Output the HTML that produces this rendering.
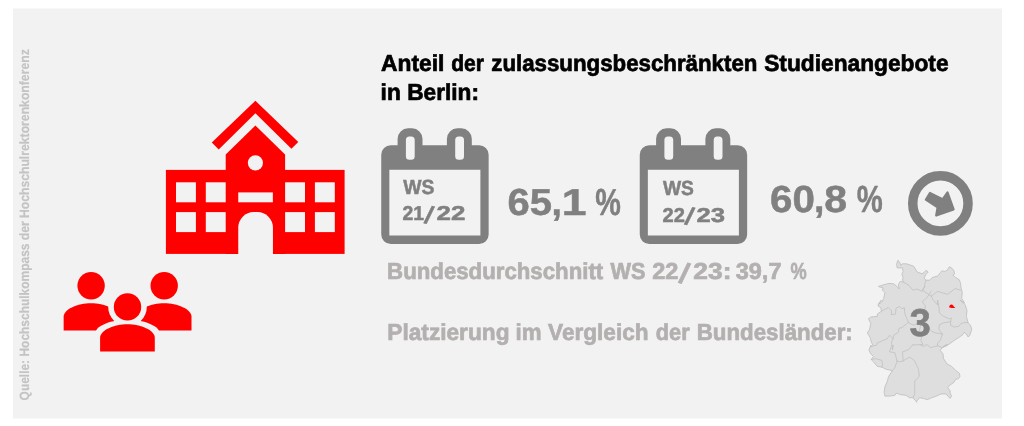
<!DOCTYPE html>
<html lang="de">
<head>
<meta charset="utf-8">
<title>Anteil der zulassungsbeschränkten Studienangebote in Berlin</title>
<style>
html,body{margin:0;padding:0;background:#fff;}
body{width:1024px;height:426px;overflow:hidden;position:relative;}
svg{position:absolute;left:0;top:0;display:block;}
text{font-family:"Liberation Sans",sans-serif;font-weight:bold;text-rendering:geometricPrecision;}
</style>
</head>
<body>
<svg width="1024" height="426" viewBox="0 0 1024 426">
  <defs>
    <filter id="soft" x="-5%" y="-5%" width="110%" height="110%"><feGaussianBlur stdDeviation="0.6"/></filter>
  </defs>
  <!-- panel -->
  <rect x="13" y="8.5" width="989" height="410" fill="#f2f2f2" filter="url(#soft)"/>

  <!-- source note -->
  <text id="src" transform="translate(29.4 400.2) rotate(-90)" font-size="13.4" fill="#c3c3c3" stroke="#c3c3c3" stroke-width="0.15"><tspan x="-0.21" textLength="40.49" lengthAdjust="spacingAndGlyphs">Quelle:</tspan> <tspan x="43.63" textLength="113.08" lengthAdjust="spacingAndGlyphs">Hochschulkompass</tspan> <tspan x="159.85" textLength="19.27" lengthAdjust="spacingAndGlyphs">der</tspan> <tspan x="182.08" textLength="168.87" lengthAdjust="spacingAndGlyphs">Hochschulrektorenkonferenz</tspan></text>

  <!-- university building -->
  <g id="building" fill="#ff0000">
    <polygon points="255.4,100.8 298.3,141.9 291.4,148.8 255.4,113.2 218.7,149.5 211.8,142.6"/>
    <polygon points="225.7,254 225.7,154.6 255.4,125.6 285.1,154.6 285.1,254"/>
    <rect x="165.9" y="169.9" width="178.7" height="84"/>
  </g>
  <g id="building-holes" fill="#f2f2f2">
    <circle cx="255.4" cy="162.8" r="7.6"/>
    <rect x="176" y="182.3" width="19.9" height="20"/>
    <rect x="205.8" y="182.3" width="19.9" height="20"/>
    <rect x="176" y="212.1" width="19.9" height="20"/>
    <rect x="205.8" y="212.1" width="19.9" height="20"/>
    <rect x="285.1" y="182.3" width="19.9" height="20"/>
    <rect x="314.9" y="182.3" width="19.9" height="20"/>
    <rect x="285.1" y="212.1" width="19.9" height="20"/>
    <rect x="314.9" y="212.1" width="19.9" height="20"/>
    <rect x="238.25" y="192.4" width="34.6" height="9.9"/>
    <path d="M238.25 255 V227.6 A15.5 15.5 0 0 1 253.75 212.1 H257.45 A15.5 15.5 0 0 1 272.95 227.6 V255 Z"/>
  </g>

  <!-- people -->
  <g id="people">
    <g fill="#ff0000">
      <circle cx="91.1" cy="285.8" r="13.7"/>
      <circle cx="164.2" cy="285.8" r="13.7"/>
      <path d="M63.65 330.5 V316.60 C63.65 309.10 77.90 303.2 91.0 303.2 C104.10 303.2 118.35 309.10 118.35 316.60 V330.5 Z"/>
      <path d="M136.80 330.5 V316.60 C136.80 309.10 151.05 303.2 164.15 303.2 C177.25 303.2 191.50 309.10 191.50 316.60 V330.5 Z"/>
    </g>
    <g fill="#f2f2f2">
      <circle cx="127.5" cy="306.9" r="19.3"/>
      <path d="M95.60 353 V332.50 C95.60 325.70 112.45 319.5 127.45 319.5 C142.45 319.5 159.30 325.70 159.30 332.50 V353 Z"/>
    </g>
    <g fill="#ff0000">
      <circle cx="127.5" cy="306.9" r="13.7"/>
      <path d="M100.10 351.6 V337.70 C100.10 330.20 114.35 324.3 127.45 324.3 C140.55 324.3 154.80 330.20 154.80 337.70 V351.6 Z"/>
    </g>
  </g>

  <!-- heading -->

  <!-- calendar 1 -->
  <g id="cal1" fill="#808080" fill-rule="evenodd">
    <path d="M390.75 145.2 H397.6 V138.8 A10.5 10.5 0 0 1 408.1 128.3 H412.0 A10.5 10.5 0 0 1 422.5 138.8 V145.2 H446.9 V138.8 A10.5 10.5 0 0 1 457.4 128.3 H461.3 A10.5 10.5 0 0 1 471.8 138.8 V145.2 H479.15 A9.5 9.5 0 0 1 488.65 154.7 V234.45 A9.5 9.5 0 0 1 479.15 243.95 H390.75 A9.5 9.5 0 0 1 381.25 234.45 V154.7 A9.5 9.5 0 0 1 390.75 145.2 Z M389.35 169.75 H480.4 V235.4 H389.35 Z M409.4 136.6 H411.2 A3.5 3.5 0 0 1 414.7 140.1 V156.3 A3.5 3.5 0 0 1 411.2 159.8 H409.4 A3.5 3.5 0 0 1 405.9 156.3 V140.1 A3.5 3.5 0 0 1 409.4 136.6 Z M458.7 136.6 H460.5 A3.5 3.5 0 0 1 464.0 140.1 V156.3 A3.5 3.5 0 0 1 460.5 159.8 H458.7 A3.5 3.5 0 0 1 455.2 156.3 V140.1 A3.5 3.5 0 0 1 458.7 136.6 Z"/>
  </g>

  <!-- calendar 2 -->
  <g id="cal2" fill="#808080" fill-rule="evenodd" transform="translate(258.5 0)">
    <path d="M390.75 145.2 H397.6 V138.8 A10.5 10.5 0 0 1 408.1 128.3 H412.0 A10.5 10.5 0 0 1 422.5 138.8 V145.2 H446.9 V138.8 A10.5 10.5 0 0 1 457.4 128.3 H461.3 A10.5 10.5 0 0 1 471.8 138.8 V145.2 H479.15 A9.5 9.5 0 0 1 488.65 154.7 V234.45 A9.5 9.5 0 0 1 479.15 243.95 H390.75 A9.5 9.5 0 0 1 381.25 234.45 V154.7 A9.5 9.5 0 0 1 390.75 145.2 Z M389.35 169.75 H480.4 V235.4 H389.35 Z M409.4 136.6 H411.2 A3.5 3.5 0 0 1 414.7 140.1 V156.3 A3.5 3.5 0 0 1 411.2 159.8 H409.4 A3.5 3.5 0 0 1 405.9 156.3 V140.1 A3.5 3.5 0 0 1 409.4 136.6 Z M458.7 136.6 H460.5 A3.5 3.5 0 0 1 464.0 140.1 V156.3 A3.5 3.5 0 0 1 460.5 159.8 H458.7 A3.5 3.5 0 0 1 455.2 156.3 V140.1 A3.5 3.5 0 0 1 458.7 136.6 Z"/>
  </g>

  <!-- trend arrow -->
  <g id="trend">
    <circle cx="940.4" cy="203.4" r="27.65" fill="none" stroke="#808080" stroke-width="9.5"/>
    <polygon points="929.9,193.0 942.6,199.3 947.5,192.4 953.6,209.4 936.2,215.5 937.6,207.4 925.8,199.7" fill="#808080" stroke="#808080" stroke-width="2.2" stroke-linejoin="round"/>
  </g>

  <!-- grey lines -->

  <!-- map placeholder -->
  <g id="map">
<path d="M897.8 260.3 L899.6 262.0 L900.7 265.3 L902.5 263.8 L906.6 263.8 L910.1 265.0 L913.7 266.2 L915.4 269.1 L917.2 272.0 L922.0 273.8 L924.1 272.6 L925.9 270.3 L928.2 272.0 L925.9 274.4 L924.1 277.9 L925.9 280.2 L929.4 280.2 L932.9 277.3 L937.6 276.1 L940.5 272.6 L941.7 270.9 L945.2 271.4 L947.6 269.7 L949.4 266.7 L952.3 268.5 L954.0 270.9 L954.6 273.8 L952.9 275.0 L955.2 277.3 L959.3 279.7 L960.5 283.2 L961.1 287.9 L962.3 292.6 L961.7 298.4 L964.6 303.1 L959.9 300.0 L965.2 304.7 L967.0 310.6 L966.4 316.4 L968.1 322.9 L970.5 325.2 L971.7 329.4 L969.9 335.2 L968.1 337.0 L966.4 334.0 L964.0 332.3 L962.9 334.6 L958.7 337.6 L954.0 340.5 L949.4 344.0 L945.2 345.2 L942.3 347.6 L947.8 345.0 L942.5 347.3 L940.2 350.3 L943.2 354.2 L943.2 358.0 L947.1 364.1 L951.6 366.4 L955.5 370.2 L959.3 373.2 L960.0 376.3 L958.5 378.6 L955.5 379.4 L953.9 382.4 L949.4 385.5 L947.8 387.7 L950.1 390.8 L950.1 393.1 L951.6 396.1 L950.1 398.4 L947.8 396.1 L946.3 393.9 L941.0 393.9 L936.4 396.1 L931.8 397.7 L927.2 399.7 L923.4 398.4 L919.6 397.7 L916.5 401.5 L917.0 402.3 L914.7 400.0 L913.1 397.7 L909.3 397.7 L906.3 395.4 L900.2 394.6 L896.4 393.1 L894.8 395.4 L889.5 396.1 L884.9 396.1 L884.1 392.3 L884.9 387.0 L887.2 381.6 L888.7 376.3 L892.5 370.6 L886.4 369.4 L881.8 367.1 L877.3 366.4 L873.5 361.8 L871.2 359.5 L873.5 356.5 L870.4 353.4 L868.9 349.6 L871.2 345.0 L870.8 347.0 L873.2 345.8 L871.4 342.3 L870.2 337.6 L867.3 332.9 L869.6 329.4 L870.8 323.5 L868.5 318.8 L870.8 317.0 L877.3 316.4 L877.3 314.1 L881.4 311.2 L880.8 307.6 L877.9 305.9 L879.0 303.5 L881.4 300.0 L878.4 304.3 L882.0 302.0 L883.7 298.4 L884.9 292.6 L882.5 290.2 L883.1 287.9 L880.8 287.3 L878.4 286.5 L883.1 284.9 L889.0 283.4 L893.7 283.8 L897.2 286.7 L899.0 289.0 L898.4 284.4 L900.2 281.4 L903.7 282.2 L902.5 280.2 L903.1 277.3 L901.9 274.4 L903.1 271.4 L902.5 267.9 L897.2 267.9 L896.6 264.4 Z" fill="#dedede" stroke="#bcbcbc" stroke-width="0.8" stroke-linejoin="round"/>
<path d="M903.7 282.2 L909.0 285.5 L913.1 290.2 L917.2 289.0 L922.0 291.4 L924.7 286.7 L922.3 290.2 L931.2 296.1 M925.9 280.2 L924.7 284.4 L924.7 286.7 M931.2 296.1 L937.6 291.4 L947.6 294.3 L955.2 288.5 L960.5 290.2 M931.2 296.1 L932.9 299.6 L937.6 305.0 L937.6 300.0 L938.8 305.9 L939.4 312.9 L943.5 316.4 L949.4 318.8 L951.1 318.2 M951.1 318.2 L950.5 325.2 L954.0 327.0 L958.7 326.4 L961.1 323.5 L965.2 322.3 L968.1 322.9 M950.3 321.7 L943.5 322.9 L939.4 324.7 L938.8 329.4 L942.3 334.0 M942.3 334.0 L940.5 339.9 L937.6 343.4 L937.6 345.8 L942.3 347.6 M942.3 334.0 L935.3 332.9 L931.2 331.1 L927.0 327.0 L923.5 325.2 L922.3 321.1 L925.3 316.4 L924.7 310.6 L925.3 305.9 L922.3 301.8 L927.0 297.7 L931.2 291.1 M881.4 311.2 L888.4 307.6 L891.4 310.6 L891.4 314.7 L895.5 314.1 L896.0 308.2 L899.6 306.5 L901.9 308.8 L904.3 307.6 L904.9 314.1 L908.4 322.3 L910.1 323.5 M908.4 322.3 L901.9 327.6 L899.0 328.2 L898.4 332.3 L893.7 335.2 L893.1 338.7 M893.1 338.7 L889.6 335.2 L887.2 338.7 L877.3 342.9 L876.7 345.2 L873.2 345.8 M893.1 338.7 L891.4 342.3 L892.5 350.0 L893.3 345.0 L891.0 347.3 L889.5 351.9 L894.8 352.6 L897.1 361.0 M897.1 361.0 L894.8 367.9 L892.5 370.6 M897.1 361.0 L899.4 361.8 L903.2 361.0 L907.8 358.0 L910.1 357.2 L914.7 361.0 L918.5 369.4 L919.3 376.3 L914.7 380.9 L914.7 393.9 L913.1 397.7 M903.2 361.0 L902.5 351.9 L908.6 349.6 L912.4 345.0 M871.2 359.5 L875.7 358.7 L881.8 360.3 L882.6 364.1 L881.8 367.1 M910.1 323.5 L913.7 325.2 L917.2 323.5 L920.7 325.2 M920.7 325.2 L919.5 330.5 L922.5 335.2 L920.7 339.9 L923.1 344.6 L912.4 345.0 M920.0 344.6 L923.5 346.4 L927.0 344.6 L930.6 347.6 L935.3 346.4 L937.6 345.8" fill="none" stroke="#bfbfbf" stroke-width="0.75" stroke-linejoin="round" stroke-linecap="round"/>
<path d="M949.3 307.6 C949.0 306.0 950.0 304.7 951.4 304.6 C952.6 304.6 953.4 305.6 953.7 306.6 L955.4 307.9 L952.0 308.1 Z" fill="#ff0000"/>
</g>
  <text id="h1" y="70.85" font-size="23.1" fill="#000000" stroke="#000000" stroke-width="0.7"><tspan x="381.08" textLength="63.39" lengthAdjust="spacingAndGlyphs">Anteil</tspan> <tspan x="451.17" textLength="32.78" lengthAdjust="spacingAndGlyphs">der</tspan> <tspan x="491.28" textLength="266.11" lengthAdjust="spacingAndGlyphs">zulassungsbeschränkten</tspan> <tspan x="764.21" textLength="184.34" lengthAdjust="spacingAndGlyphs">Studienangebote</tspan></text>
  <text id="h2" y="100.0" font-size="23.1" fill="#000000" stroke="#000000" stroke-width="0.7"><tspan x="380.62" textLength="20.20" lengthAdjust="spacingAndGlyphs">in</tspan> <tspan x="407.24" textLength="71.69" lengthAdjust="spacingAndGlyphs">Berlin:</tspan></text>
  <text id="g1" y="278.9" font-size="23.1" fill="#b4b0b0" stroke="#b4b0b0" stroke-width="0.7"><tspan x="387.11" textLength="216.12" lengthAdjust="spacingAndGlyphs">Bundesdurchschnitt</tspan> <tspan x="610.46" textLength="34.86" lengthAdjust="spacingAndGlyphs">WS</tspan> <tspan x="652.24" textLength="26.21" lengthAdjust="spacingAndGlyphs">22</tspan><tspan x="678.00" rotate="15" font-size="29" dy="3.20" textLength="8.00" lengthAdjust="spacingAndGlyphs">/</tspan><tspan x="693.36" dy="-3.20" textLength="38.16" lengthAdjust="spacingAndGlyphs">23:</tspan> <tspan x="735.74" textLength="45.72" lengthAdjust="spacingAndGlyphs">39,7</tspan> <tspan x="790.50" textLength="16.15" lengthAdjust="spacingAndGlyphs">%</tspan></text>
  <text id="g2" y="339.9" font-size="23.1" fill="#b4b0b0" stroke="#b4b0b0" stroke-width="0.7"><tspan x="387.30" textLength="122.19" lengthAdjust="spacingAndGlyphs">Platzierung</tspan> <tspan x="515.55" textLength="26.00" lengthAdjust="spacingAndGlyphs">im</tspan> <tspan x="548.06" textLength="100.57" lengthAdjust="spacingAndGlyphs">Vergleich</tspan> <tspan x="655.77" textLength="33.86" lengthAdjust="spacingAndGlyphs">der</tspan> <tspan x="696.70" textLength="156.10" lengthAdjust="spacingAndGlyphs">Bundesländer:</tspan></text>
  <text id="p1" y="214.5" font-size="37.6" fill="#808080" stroke="#808080" stroke-width="0.5"><tspan x="507.58" textLength="44.53" lengthAdjust="spacingAndGlyphs">65</tspan><tspan x="551.60" textLength="10.40" lengthAdjust="spacingAndGlyphs">,</tspan><tspan x="561.65" textLength="24.75" lengthAdjust="spacingAndGlyphs">1</tspan> <tspan x="595.29" textLength="25.61" lengthAdjust="spacingAndGlyphs">%</tspan></text>
  <text id="p2" y="211.9" font-size="37.7" fill="#808080" stroke="#808080" stroke-width="0.5"><tspan x="770.09" textLength="44.83" lengthAdjust="spacingAndGlyphs">60</tspan><tspan x="813.90" textLength="10.40" lengthAdjust="spacingAndGlyphs">,</tspan><tspan x="824.32" textLength="22.86" lengthAdjust="spacingAndGlyphs">8</tspan> <tspan x="856.66" textLength="26.03" lengthAdjust="spacingAndGlyphs">%</tspan></text>
  <text id="c1a" y="194.0" font-size="20.4" fill="#808080" stroke="#808080" stroke-width="0.5"><tspan x="403.14" textLength="31.17" lengthAdjust="spacingAndGlyphs">WS</tspan></text>
  <text id="c1b" y="220.2" font-size="20.1" fill="#808080" stroke="#808080" stroke-width="0.5"><tspan x="402.54" textLength="21.61" lengthAdjust="spacingAndGlyphs">21</tspan><tspan x="423.60" rotate="15" font-size="25" dy="2.20" textLength="7.00" lengthAdjust="spacingAndGlyphs">/</tspan><tspan x="436.56" dy="-2.20" textLength="28.78" lengthAdjust="spacingAndGlyphs">22</tspan></text>
  <text id="c2a" y="194.7" font-size="20.4" fill="#808080" stroke="#808080" stroke-width="0.5"><tspan x="662.94" textLength="30.98" lengthAdjust="spacingAndGlyphs">WS</tspan></text>
  <text id="c2b" y="221.6" font-size="20.1" fill="#808080" stroke="#808080" stroke-width="0.5"><tspan x="662.53" textLength="22.34" lengthAdjust="spacingAndGlyphs">22</tspan><tspan x="684.10" rotate="15" font-size="25" dy="2.20" textLength="7.00" lengthAdjust="spacingAndGlyphs">/</tspan><tspan x="696.60" dy="-2.20" textLength="28.50" lengthAdjust="spacingAndGlyphs">23</tspan></text>
  <text id="n3" y="336.0" font-size="38.8" fill="#808080" stroke="#808080" stroke-width="0.6"><tspan x="909.50" textLength="21.30" lengthAdjust="spacingAndGlyphs">3</tspan></text>
</svg>
</body>
</html>
